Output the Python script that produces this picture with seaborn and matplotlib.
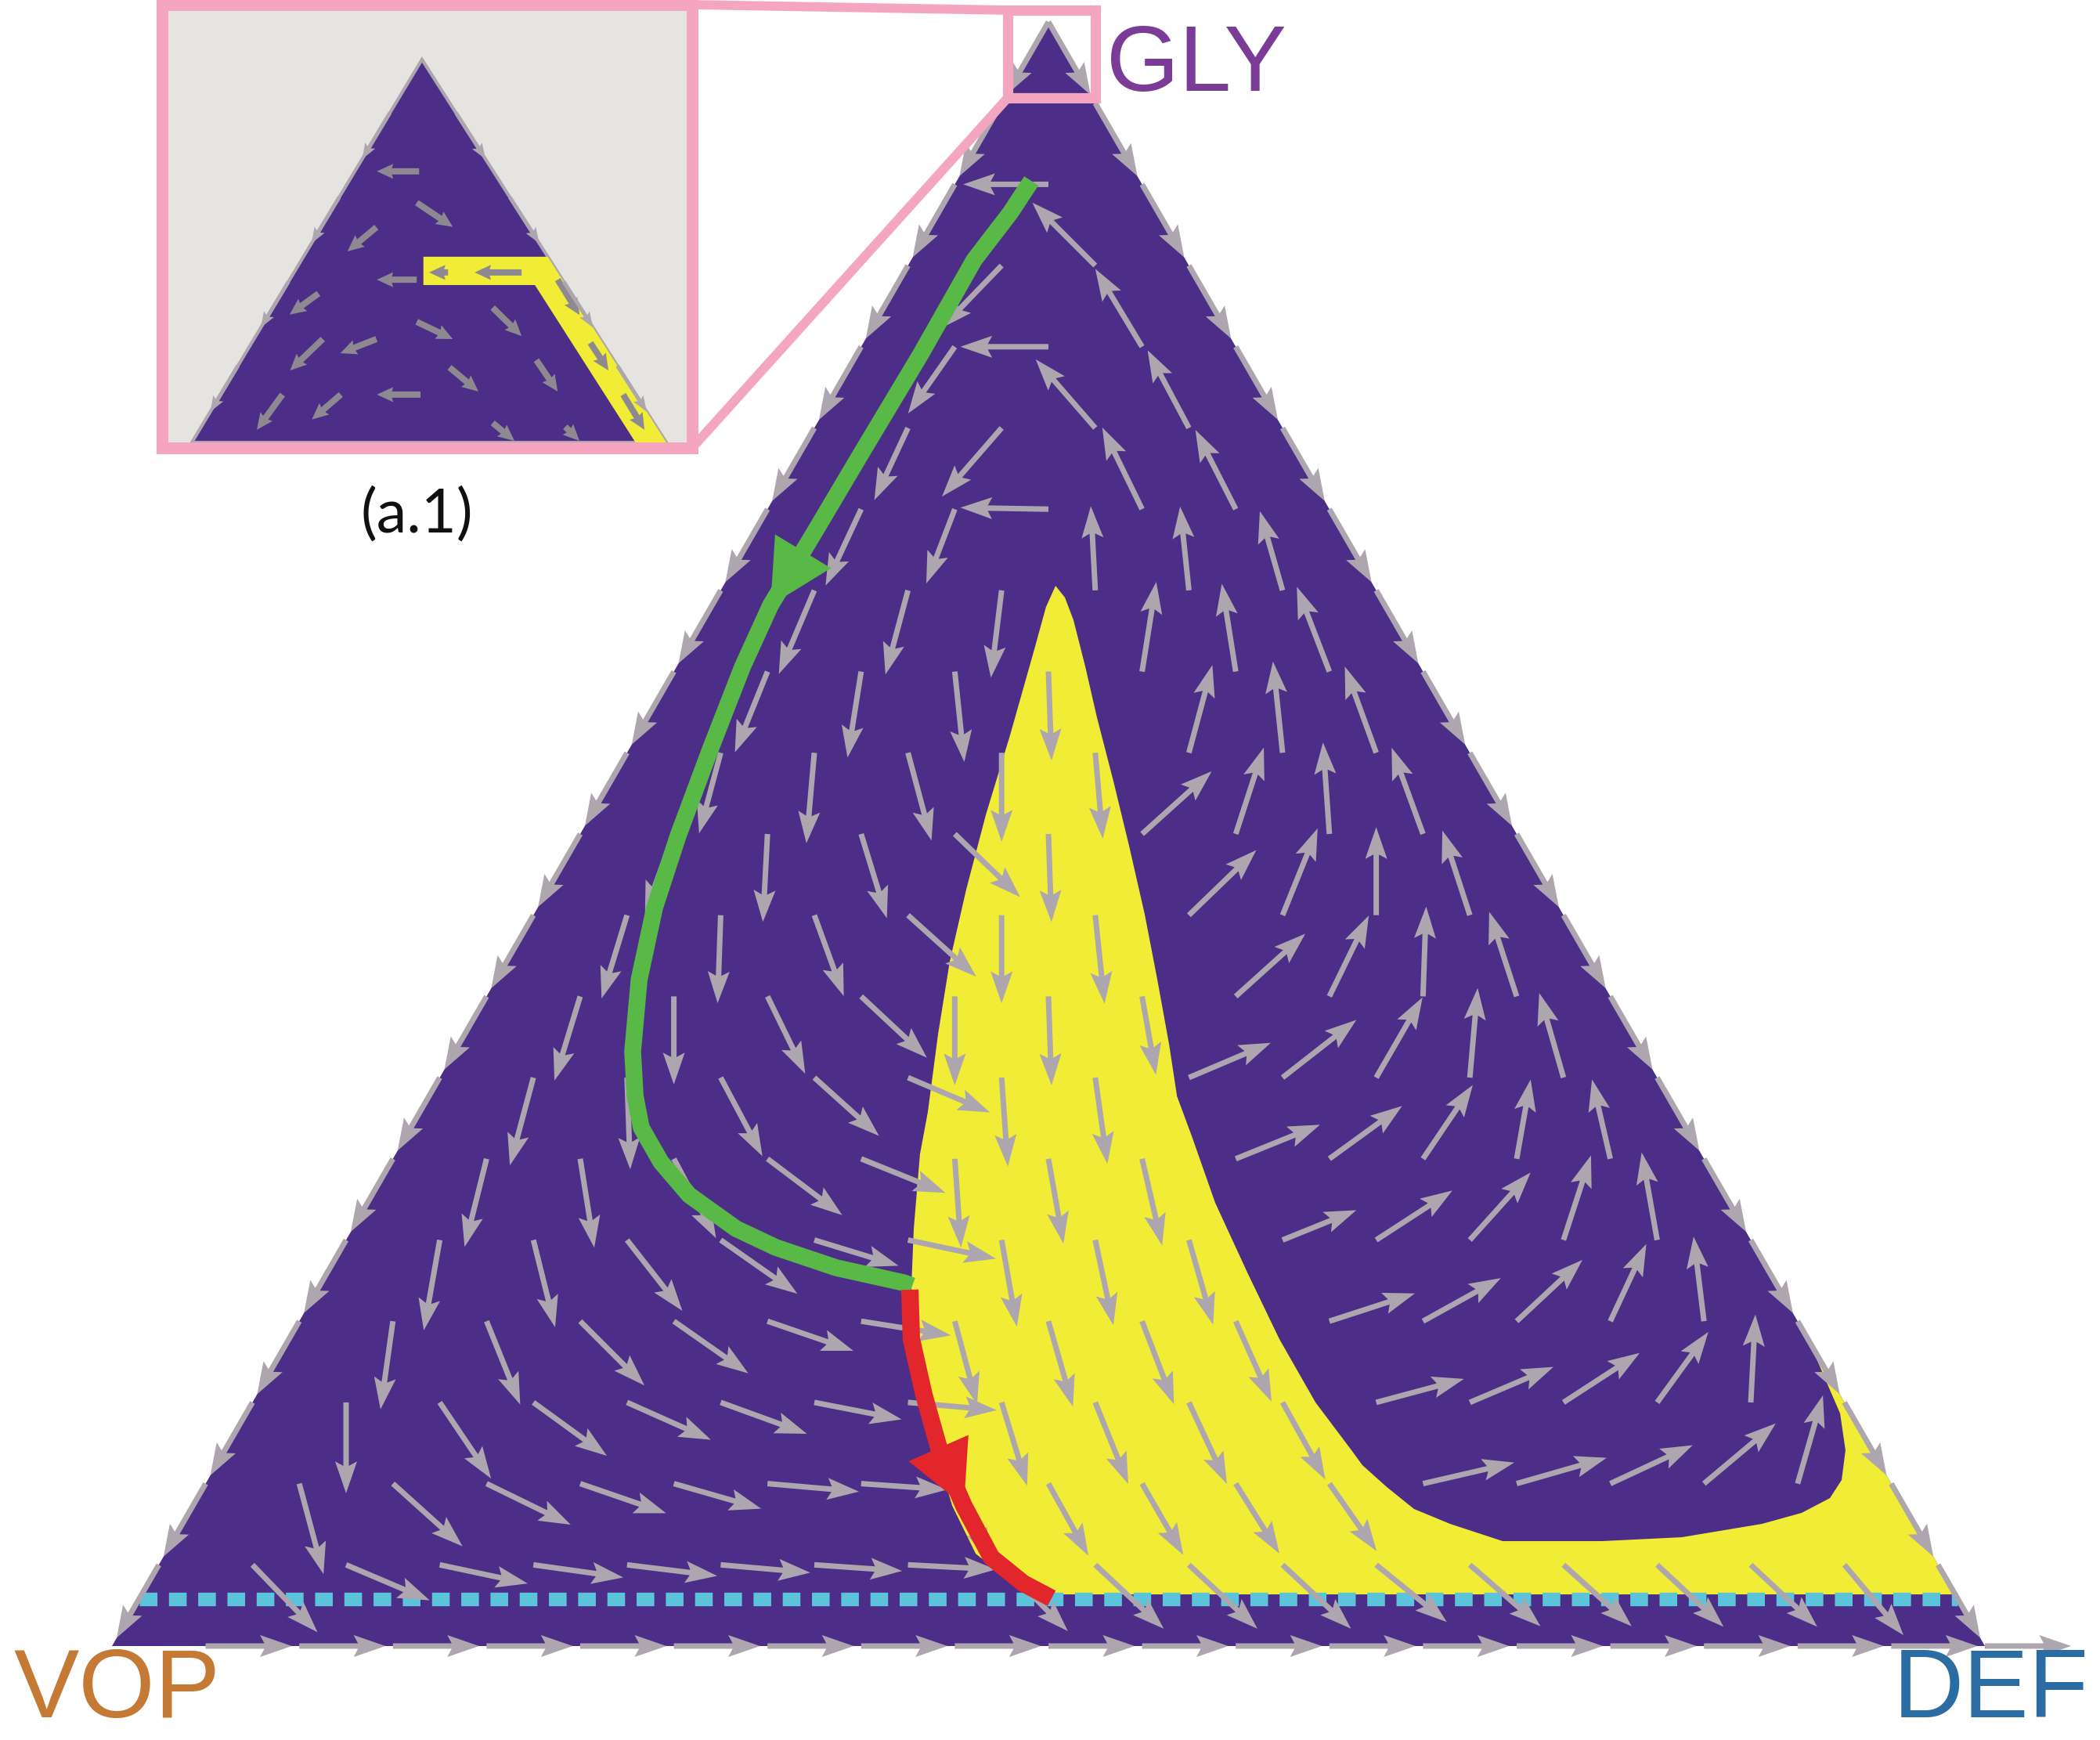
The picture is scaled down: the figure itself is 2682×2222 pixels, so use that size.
import numpy as np
import matplotlib
matplotlib.use("Agg")
import matplotlib.pyplot as plt
import seaborn as sns
import pandas as pd
from matplotlib.patches import Polygon, Rectangle, FancyArrowPatch

sns.set_theme(style="white")
plt.rcParams["font.family"] = ["Liberation Sans", "DejaVu Sans"]

# ---------------- data ----------------
N_DIV = 20  # simplex grid divisions (GLY share = k/20, DEF share = j/20)

# interior arrow directions (deg, y up) and lengths (grid units), row k = GLY*20, j = 1..
ANG_R01 = [-46, -23, -12, -8, -7, -5, -4, -3, -45, -43, -43, -43, -39, -41, -42, -43, -43, -50]
LEN_R01 = [1.0, .97, .96, .97, .97, .96, .94, .94, 1.0, 1.0, 1.0, 1.0, .97, 1.0, .98, .97, .97, .98]
ANG_R02 = [-75, -42, -26, -19, -16, -5, -4, -65, -61, -60, -58, -55, 13, 16, 25, 40, 74]
LEN_R02 = [1.0, 1.0, 1.0, .97, .97, .98, .92, .9, .88, .88, .88, .88, 1.0, 1.0, .97, 1.0, .98]
ANG_R03 = [-90, -56, -36, -24, -20, -11, -5, -73, -68, -65, -61, 15, 23, 33, 54, 87]
LEN_R03 = [.97, .98, .97, .98, .98, .95, .95, .93, .94, .96, .94, .97, .97, .97, .93, .94]
ANG_R04 = [-98, -68, -45, -35, -19, -9, -75, -74, -69, -66, 18, 29, 43, 65, 97]
LEN_R04 = [.95, .96, .97, .97, .97, .97, .92, .95, .95, .94, .96, .95, .96, .91, .91]
ANG_R05 = [-100, -76, -52, -35, -17, -12, -80, -78, -74, 22, 33, 48, 72, 100]
LEN_R05 = [.98, .96, .96, 1.0, .94, .96, .94, .93, .94, .85, .97, .97, .95, .95]
ANG_R06 = [-104, -81, -62, -37, -22, -86, -80, -77, 22, 36, 56, 80, 103]
LEN_R06 = [.97, .96, .96, 1.0, .97, .95, .92, .95, .97, .96, .95, .86, .87]
ANG_R07 = [-105, -88, -62, -42, -23, -86, -82, 23, 38, 60, 85, 106]
LEN_R07 = [.97, .98, .95, .93, .95, .95, .93, .95, 1.0, .99, .96, .94]
ANG_R08 = [-107, -90, -64, -43, -90, -88, -80, 42, 64, 88, 108]
LEN_R08 = [.94, .94, .92, .96, .95, .95, .85, 1.0, .96, .96, .95]
ANG_R09 = [-107, -92, -70, -42, -90, -84, 44, 68, 90, 108]
LEN_R09 = [.93, .94, .92, .98, .94, .95, 1.0, 1.0, .94, .95]
ANG_R10 = [-110, -93, -73, -44, -88, 42, 72, 94, 110]
LEN_R10 = [.9, .94, .94, .97, .94, 1.0, .97, .98, .98]
ANG_R11 = [-105, -95, -75, -90, -85, 75, 96, 110]
LEN_R11 = [.89, .97, .97, .95, .92, .97, .98, .98]
ANG_R12 = [-112, -99, -84, -88, 81, 99, 111]
LEN_R12 = [.93, .93, .97, .95, .97, .95, .97]
ANG_R13 = [-113, -105, -97, 93, 96, 106]
LEN_R13 = [.97, .93, .94, .9, .9, .88]
ANG_R14 = [-115, -111, 179, 116, 117]
LEN_R14 = [.9, .85, .94, .97, .95]
ANG_R15 = [-115, -131, 131, 118]
LEN_R15 = [.85, .97, .97, .94]
ANG_R16 = [-125, 180, 121]
LEN_R16 = [.87, .94, .97]
ANG_R17 = [-134, 135]
LEN_R17 = [.93, .95]
ANG_R18 = [180]
LEN_R18 = [.91]

# arrows along the three edges
EDGE_ANG_BOTTOM, EDGE_LEN_BOTTOM = 0, 0.92     # VOP -> DEF
EDGE_ANG_LEFT, EDGE_LEN_LEFT = -120, 0.90      # GLY -> VOP
EDGE_ANG_RIGHT, EDGE_LEN_RIGHT = -60, 0.90     # GLY -> DEF

# yellow region (DEF share, GLY share)
YELLOW_DEF = [0.1774, 0.1788, 0.1856, 0.1991, 0.2106, 0.2232, 0.2366, 0.2526, 0.2712, 0.2800,
              0.2996, 0.3164, 0.3348, 0.3561, 0.3796, 0.4055, 0.4327, 0.4578, 0.4858, 0.9682,
              0.8120, 0.8363, 0.8511, 0.8653, 0.8724, 0.8717, 0.8612, 0.8433, 0.8047, 0.7633,
              0.7102, 0.6769, 0.6530, 0.6317, 0.6119, 0.6016, 0.5676, 0.5288, 0.4912, 0.4526,
              0.4196, 0.3994, 0.3793, 0.3530, 0.3263, 0.2970, 0.2686, 0.2400, 0.2184, 0.1976, 0.1860]
YELLOW_GLY = [0.6528, 0.6398, 0.6138, 0.5608, 0.5121, 0.4658, 0.4214, 0.3770, 0.3288, 0.3028,
              0.2570, 0.2208, 0.1890, 0.1548, 0.1205, 0.0863, 0.0569, 0.0410, 0.0318, 0.0318,
              0.1880, 0.1601, 0.1432, 0.1205, 0.1022, 0.0911, 0.0820, 0.0752, 0.0670, 0.0646,
              0.0646, 0.0752, 0.0844, 0.0979, 0.1114, 0.1205, 0.1500, 0.1890, 0.2300, 0.2729,
              0.3139, 0.3385, 0.3703, 0.4103, 0.4503, 0.4923, 0.5323, 0.5718, 0.6027, 0.6316, 0.6456]

# green trajectory (DEF share, GLY share)
GREEN_DEF = [0.0398, 0.0384, 0.0336, 0.0341, 0.0329, 0.0322, 0.0312, 0.0352, 0.0434, 0.0528, 0.0624,
             0.0763, 0.0950, 0.1101, 0.1230, 0.1441, 0.1693, 0.2047, 0.2318, 0.2703, 0.3109, 0.3164]
GREEN_GLY = [0.9021, 0.8823, 0.8534, 0.7956, 0.7353, 0.6856, 0.6408, 0.6027, 0.5521, 0.4990, 0.4547,
             0.4103, 0.3660, 0.3385, 0.3192, 0.2980, 0.2777, 0.2570, 0.2454, 0.2329, 0.2237, 0.2218]
GREEN_HEAD_AT = 6
# red trajectory
RED_DEF = [0.3163, 0.3323, 0.3561, 0.3816, 0.4117, 0.4423, 0.4673, 0.4870]
RED_GLY = [0.2194, 0.1890, 0.1548, 0.1205, 0.0863, 0.0545, 0.0386, 0.0294]
RED_HEAD_AT = 4

CYAN_GLY = 0.029  # dotted threshold line

# inset (a.1): local coords u across base, v base->apex
INSET_APEX_U = 0.485
INSET_U = [0.479, 0.474, 0.389, 0.474, 0.695, 0.540, 0.634, 0.474, 0.389, 0.276, 0.726,
           0.543, 0.482, 0.314, 0.191, 0.634, 0.787, 0.771, 0.840, 0.909, 0.267]
INSET_V = [0.708, 0.626, 0.562, 0.425, 0.444, 0.444, 0.352, 0.315, 0.270, 0.270, 0.215,
           0.196, 0.125, 0.125, 0.125, 0.051, 0.041, 0.425, 0.260, 0.125, 0.389]
INSET_DU = [-0.089, 0.076, -0.061, -0.084, -0.099, -0.040, 0.061, 0.076, -0.076, -0.069, 0.045,
            0.061, -0.092, -0.061, -0.054, 0.046, 0.030, 0.046, 0.038, 0.045, -0.061]
INSET_DV = [0.0, -0.063, -0.063, 0.0, 0.0, 0.0, -0.074, -0.045, -0.037, -0.082, -0.082,
            -0.063, 0.0, -0.065, -0.092, -0.047, -0.037, -0.092, -0.072, -0.092, -0.055]
INSET_YELLOW_U = [0.488, 0.750, 1.000, 0.935, 0.723, 0.488]
INSET_YELLOW_V = [0.485, 0.485, 0.000, 0.000, 0.411, 0.411]
INSET_EDGE_V = [0.86, 0.64, 0.42, 0.20]

LABELS = ["VOP", "DEF", "GLY"]

# ---------------- style / layout ----------------
PURPLE = "#4C2D88"
YELLOW = "#F1EC35"
GREY = "#ADA6AE"
GREEN = "#58B947"
RED = "#E2262B"
CYAN = "#5CC4DA"
PINK = "#F4A6C1"

W, H = 2682, 2222
fig = plt.figure(figsize=(W / 100, H / 100), dpi=100)
fig.patch.set_facecolor("white")
ax = fig.add_axes([0, 0, 1, 1])
ax.set_xlim(0, W)
ax.set_ylim(H, 0)
ax.axis("off")

P_VOP = np.array([143.0, 2102.0])
P_DEF = np.array([2535.0, 2102.0])
P_GLY = np.array([1339.0, 28.0])
SPACING = (P_DEF[0] - P_VOP[0]) / N_DIV


def tern(d, g):
    d = np.asarray(d, float)
    g = np.asarray(g, float)
    v = 1 - d - g
    x = v * P_VOP[0] + d * P_DEF[0] + g * P_GLY[0]
    y = v * P_VOP[1] + d * P_DEF[1] + g * P_GLY[1]
    return x, y


# triangle
ax.add_patch(Polygon([P_VOP, P_DEF, P_GLY], closed=True, facecolor=PURPLE,
                     edgecolor="none", zorder=1))
# yellow region
yx, yy = tern(YELLOW_DEF, YELLOW_GLY)
ax.add_patch(Polygon(np.column_stack([yx, yy]), closed=True, facecolor=YELLOW,
                     edgecolor="none", zorder=2))

# dotted line
lx, ly = tern([0.0, 1 - CYAN_GLY], [CYAN_GLY, CYAN_GLY])
ax.plot(lx, ly, color=CYAN, lw=12.5, dashes=(1.3, 0.85), solid_capstyle="butt",
        dash_capstyle="butt", zorder=2.5)

# arrows
rows_ang = [ANG_R01, ANG_R02, ANG_R03, ANG_R04, ANG_R05, ANG_R06, ANG_R07, ANG_R08, ANG_R09,
            ANG_R10, ANG_R11, ANG_R12, ANG_R13, ANG_R14, ANG_R15, ANG_R16, ANG_R17, ANG_R18]
rows_len = [LEN_R01, LEN_R02, LEN_R03, LEN_R04, LEN_R05, LEN_R06, LEN_R07, LEN_R08, LEN_R09,
            LEN_R10, LEN_R11, LEN_R12, LEN_R13, LEN_R14, LEN_R15, LEN_R16, LEN_R17, LEN_R18]
recs = []
for k, (angs, lens) in enumerate(zip(rows_ang, rows_len), start=1):
    for j, (a, l) in enumerate(zip(angs, lens), start=1):
        recs.append((j / N_DIV, k / N_DIV, a, l))
for j in range(1, N_DIV + 1):
    recs.append((j / N_DIV, 0.0, EDGE_ANG_BOTTOM, EDGE_LEN_BOTTOM))
for k in range(1, N_DIV + 1):
    recs.append((0.0, k / N_DIV, EDGE_ANG_LEFT, EDGE_LEN_LEFT))
    recs.append(((N_DIV - k) / N_DIV, k / N_DIV, EDGE_ANG_RIGHT, EDGE_LEN_RIGHT))
arr = pd.DataFrame(recs, columns=["DEF", "GLY", "ang", "len"])
ax_x, ax_y = tern(arr["DEF"], arr["GLY"])
th = np.deg2rad(arr["ang"].to_numpy())
U = arr["len"].to_numpy() * SPACING * np.cos(th)
V = -arr["len"].to_numpy() * SPACING * np.sin(th)
ax.quiver(ax_x, ax_y, U, V, angles="xy", scale_units="xy", scale=1, units="xy",
          width=7, headwidth=4.0, headlength=5.8, headaxislength=5.0, color=GREY, zorder=3)

# trajectories
gx, gy = tern(GREEN_DEF, GREEN_GLY)
rx, ry = tern(RED_DEF, RED_GLY)
sns.lineplot(x=gx, y=gy, sort=False, estimator=None, color=GREEN, lw=15.5, ax=ax, zorder=4,
             solid_capstyle="butt", solid_joinstyle="round")
sns.lineplot(x=rx, y=ry, sort=False, estimator=None, color=RED, lw=16, ax=ax, zorder=4,
             solid_capstyle="butt", solid_joinstyle="round")
for px, py, i, c in [(gx, gy, GREEN_HEAD_AT, GREEN), (rx, ry, RED_HEAD_AT, RED)]:
    ax.add_patch(FancyArrowPatch((px[i - 1], py[i - 1]), (px[i], py[i]),
                                 arrowstyle="-|>,head_length=58,head_width=30",
                                 mutation_scale=1, color=c, lw=0, shrinkA=0, shrinkB=0,
                                 zorder=4.5))
ax.set_xlim(0, W)
ax.set_ylim(H, 0)

# vertex labels
ax.text(17, 2193, LABELS[0], color="#C47A35", fontsize=90, ha="left", va="baseline")
ax.text(2668, 2193, LABELS[1], color="#2B6CA3", fontsize=90, ha="right", va="baseline")
ax.text(1413, 116, LABELS[2], color="#7B3C97", fontsize=86, ha="left", va="baseline")

# zoom box + connectors
ax.add_patch(Rectangle((1287, 13), 112, 112, fill=False, edgecolor=PINK, lw=9.5, zorder=6))
ax.plot([884, 1287], [6, 13], color=PINK, lw=8.5, zorder=6, solid_capstyle="butt")
ax.plot([884, 1287], [572, 125], color=PINK, lw=8.5, zorder=6, solid_capstyle="butt")

# inset (a.1)
L, R, T, B = 207, 884, 6, 572
iax = fig.add_axes([L / W, 1 - B / H, (R - L) / W, (B - T) / H])
iax.set_facecolor("#E6E4E1")
u0 = (L - 245) / 606
u1 = (R - 245) / 606
v0 = (565 - B) / 489
v1 = (565 - T) / 489
iax.set_xlim(u0, u1)
iax.set_ylim(v0, v1)
iax.set_xticks([])
iax.set_yticks([])
for sp in iax.spines.values():
    sp.set_color(PINK)
    sp.set_linewidth(10.8)
tri = [(0, 0), (1, 0), (INSET_APEX_U, 1)]
iax.add_patch(Polygon(tri, closed=True, facecolor=PURPLE, edgecolor=GREY, lw=3, zorder=1))
iax.add_patch(Polygon(np.column_stack([INSET_YELLOW_U, INSET_YELLOW_V]), closed=True,
                      facecolor=YELLOW, edgecolor="none", zorder=2))
iax.quiver(INSET_U, INSET_V, INSET_DU, INSET_DV, angles="xy", scale_units="xy", scale=1,
           units="dots", width=8, headwidth=2.4, headlength=2.6, headaxislength=2.4,
           color="#8E8990", zorder=3)
ev = np.array(INSET_EDGE_V)
lu = INSET_APEX_U * ev
ru = 1 - (1 - INSET_APEX_U) * ev
iax.quiver(lu, ev, -INSET_APEX_U * 0.12 * np.ones_like(ev), -0.12 * np.ones_like(ev),
           angles="xy", scale_units="xy", scale=1, units="dots", width=5, headwidth=3,
           headlength=4, headaxislength=3.5, color=GREY, zorder=3)
iax.quiver(ru, ev, (1 - INSET_APEX_U) * 0.12 * np.ones_like(ev), -0.12 * np.ones_like(ev),
           angles="xy", scale_units="xy", scale=1, units="dots", width=5, headwidth=3,
           headlength=4, headaxislength=3.5, color=GREY, zorder=3)

fig.text(532 / W, 1 - 658 / H, "(a.1)", fontsize=56, ha="center", va="center",
         color="#111111", family=["Lato", "DejaVu Sans"])

fig.savefig("out.png", dpi=100, facecolor="white")
